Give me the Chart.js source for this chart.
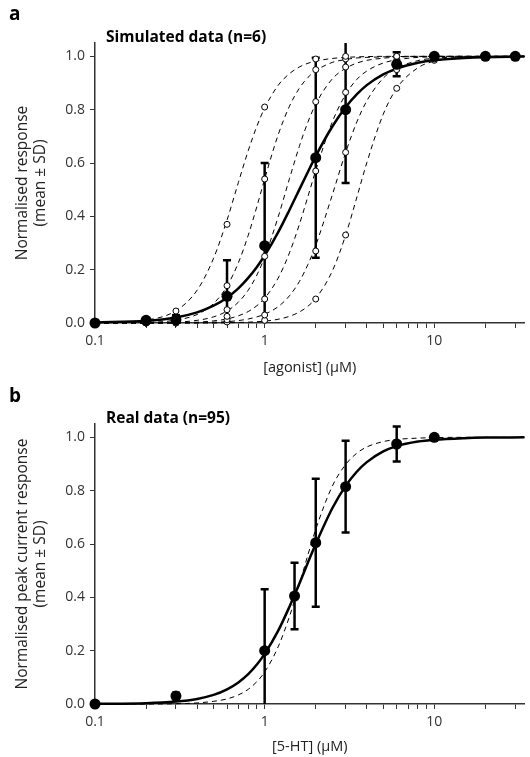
<!DOCTYPE html>
<html>
<head>
<meta charset="utf-8">
<script src="https://cdn.jsdelivr.net/npm/chart.js@4.4.1/dist/chart.umd.min.js"></script>
<style>
  body { margin: 0; background: #fff; }
  canvas { display: block; }
</style>
</head>
<body>
<canvas id="chartA" width="530" height="378"></canvas>
<canvas id="chartB" width="530" height="379"></canvas>
<script>
// Ticks of the log x axis, and which of them get a label
const xTicks = [0.1, 0.2, 0.3, 0.4, 0.5, 0.6, 0.7, 0.8, 0.9, 1, 2, 3, 4, 5, 6, 7, 8, 9, 10, 20, 30];
const xTickLabels = [0.1, 1, 10];

// Panel a: simulated data, 6 individual cells + mean ± SD
const dosesA = [0.1, 0.2, 0.3, 0.6, 1, 2, 3, 6, 10, 20, 30];
const meanA = [0.0, 0.01, 0.012, 0.10, 0.29, 0.62, 0.80, 0.97, 1.0, 1.0, 1.0];
const sdA = [0, 0.005, 0.017, 0.135, 0.31, 0.375, 0.275, 0.045, 0.006, 0, 0];
const cell1 = [0, 0.01, 0.045, 0.37, 0.81, 0.99, 1.0, 1.0, 1.0, 1.0, 1.0];
const cell2 = [0, 0.002, 0.01, 0.14, 0.54, 0.95, 0.99, 1.0, 1.0, 1.0, 1.0];
const cell3 = [0, 0, 0.003, 0.05, 0.25, 0.83, 0.96, 1.0, 1.0, 1.0, 1.0];
const cell4 = [0, 0, 0.001, 0.025, 0.09, 0.57, 0.865, 0.985, 1.0, 1.0, 1.0];
const cell5 = [0, 0, 0, 0.012, 0.03, 0.27, 0.64, 0.95, 0.99, 1.0, 1.0];
const cell6 = [0, 0, 0, 0.004, 0.01, 0.09, 0.33, 0.88, 0.985, 1.0, 1.0];

// Fitted curves at these concentrations
const curveX = [0.1, 0.2, 0.3, 0.4, 0.5, 0.6, 0.7, 0.8, 0.9, 1, 1.2, 1.4, 1.6, 1.8, 2, 2.5, 3, 3.5, 4, 5, 6, 8, 10, 15, 20, 34];
const fitA1 = [0.001, 0.011, 0.046, 0.123, 0.243, 0.386, 0.527, 0.646, 0.738, 0.806, 0.891, 0.935, 0.960, 0.974, 0.982, 0.992, 0.996, 0.998, 0.999, 1, 1, 1, 1, 1, 1, 1];
const fitA2 = [0, 0.002, 0.011, 0.032, 0.073, 0.138, 0.226, 0.329, 0.437, 0.540, 0.705, 0.813, 0.880, 0.921, 0.946, 0.977, 0.988, 0.994, 0.996, 0.998, 0.999, 1, 1, 1, 1, 1];
const fitA3 = [0, 0.001, 0.003, 0.010, 0.023, 0.045, 0.078, 0.123, 0.180, 0.247, 0.397, 0.541, 0.662, 0.754, 0.821, 0.915, 0.955, 0.975, 0.985, 0.993, 0.997, 0.999, 1, 1, 1, 1];
const fitA4 = [0, 0, 0.001, 0.003, 0.008, 0.015, 0.027, 0.043, 0.065, 0.093, 0.168, 0.263, 0.369, 0.475, 0.572, 0.753, 0.857, 0.914, 0.945, 0.975, 0.987, 0.996, 0.998, 1, 1, 1];
const fitA5 = [0, 0, 0, 0.001, 0.003, 0.005, 0.009, 0.015, 0.023, 0.033, 0.061, 0.102, 0.155, 0.220, 0.291, 0.479, 0.639, 0.755, 0.833, 0.918, 0.955, 0.984, 0.993, 0.998, 1, 1];
const fitA6 = [0, 0, 0, 0, 0, 0.001, 0.002, 0.003, 0.005, 0.007, 0.014, 0.025, 0.041, 0.063, 0.092, 0.194, 0.329, 0.473, 0.601, 0.783, 0.880, 0.957, 0.982, 0.996, 0.999, 1];
const fitMeanA = [0.002, 0.008, 0.021, 0.040, 0.065, 0.095, 0.130, 0.169, 0.210, 0.253, 0.340, 0.424, 0.500, 0.567, 0.626, 0.736, 0.809, 0.858, 0.892, 0.932, 0.954, 0.976, 0.986, 0.994, 0.997, 0.999];

// Panel b: real data (n=95)
const dosesB = [0.1, 0.3, 1, 1.5, 2, 3, 6, 10];
const meanB = [0.0, 0.03, 0.20, 0.405, 0.605, 0.815, 0.975, 1.0];
const sdB = [0, 0.012, 0.23, 0.125, 0.24, 0.172, 0.066, 0.005];
const fitB = [0.001, 0.003, 0.009, 0.019, 0.034, 0.055, 0.081, 0.112, 0.148, 0.188, 0.274, 0.365, 0.451, 0.531, 0.600, 0.733, 0.818, 0.872, 0.907, 0.947, 0.967, 0.984, 0.991, 0.997, 0.999, 1];
const fitBDashed = [0, 0, 0.001, 0.004, 0.010, 0.019, 0.034, 0.055, 0.084, 0.120, 0.214, 0.328, 0.448, 0.560, 0.655, 0.816, 0.898, 0.941, 0.964, 0.984, 0.992, 0.997, 0.999, 1, 1, 1];

const fontFamily = "'Open Sans', Lato, sans-serif";
const axisColor = '#333';

Chart.defaults.font.family = fontFamily;
Chart.defaults.color = '#333';

const xy = (xs, ys) => xs.map((x, i) => ({ x: x, y: ys[i] }));

// Vertical SD bars with caps, clipped to the plot area
const errorBars = {
    id: 'errorBars',
    beforeDatasetsDraw(chart, args, opts) {
        const { ctx, chartArea, scales: { x, y } } = chart;
        ctx.save();
        ctx.beginPath();
        ctx.rect(chartArea.left, chartArea.top, chartArea.right - chartArea.left, chartArea.bottom - chartArea.top);
        ctx.clip();
        ctx.strokeStyle = '#000';
        ctx.lineWidth = 2.5;
        opts.doses.forEach((d, i) => {
            const sd = opts.sd[i];
            if (sd < 0.01) return;
            const px = x.getPixelForValue(d);
            const top = y.getPixelForValue(opts.mean[i] + sd);
            const bot = y.getPixelForValue(opts.mean[i] - sd);
            ctx.beginPath();
            ctx.moveTo(px, top); ctx.lineTo(px, bot);
            ctx.moveTo(px - 4, top); ctx.lineTo(px + 4, top);
            ctx.moveTo(px - 4, bot); ctx.lineTo(px + 4, bot);
            ctx.stroke();
        });
        ctx.restore();
    }
};

// Panel letter and bold title
const panelText = {
    id: 'panelText',
    afterDraw(chart, args, opts) {
        const { ctx, chartArea } = chart;
        ctx.save();
        ctx.fillStyle = '#000';
        ctx.textBaseline = 'middle';
        ctx.font = 'bold 19px ' + fontFamily;
        ctx.fillText(opts.letter, 9, opts.letterY);
        ctx.font = 'bold 15.5px ' + fontFamily;
        ctx.fillText(opts.title, chartArea.left + 11, opts.titleY);
        ctx.restore();
    }
};

function dashed(ys) {
    return { data: xy(curveX, ys), showLine: true, borderColor: '#000', borderWidth: 1, borderDash: [5, 4],
             pointRadius: 0, cubicInterpolationMode: 'monotone', clip: false };
}
function solid(ys) {
    return { data: xy(curveX, ys), showLine: true, borderColor: '#000', borderWidth: 2.5,
             pointRadius: 0, cubicInterpolationMode: 'monotone', clip: false };
}
function openPts(ys) {
    return { data: xy(dosesA, ys), pointRadius: 3, pointBackgroundColor: '#fff', pointBorderColor: '#000',
             pointBorderWidth: 1, clip: false };
}
function meanPts(xs, ys) {
    return { data: xy(xs, ys), pointRadius: 5.5, pointBackgroundColor: '#000', pointBorderColor: '#000',
             pointBorderWidth: 0, clip: false };
}

function scalesFor(xTitle, yTitle, xHeight) {
    return {
        x: {
            type: 'logarithmic', min: 0.1, max: 34,
            afterBuildTicks(s) { s.ticks = xTicks.map(v => ({ value: v })); },
            afterFit(s) { s.height = xHeight; },
            ticks: {
                autoSkip: false, maxRotation: 0, padding: 5, color: '#333',
                font: { size: 14 },
                callback: v => xTickLabels.some(t => Math.abs(t - v) < 1e-9) ? String(v) : ''
            },
            grid: { drawOnChartArea: false, tickLength: 5, color: axisColor, lineWidth: 1 },
            border: { color: axisColor, width: 1.5 },
            title: { display: true, text: xTitle, color: '#222', font: { size: 14.5 }, padding: { top: 0, bottom: 1 } }
        },
        y: {
            min: 0, max: 1.05,
            afterFit(s) { s.width = 95; },
            ticks: { stepSize: 0.2, includeBounds: false, padding: 5, color: '#333', font: { size: 14 },
                     callback: v => v.toFixed(1) },
            grid: { drawOnChartArea: false, tickLength: 5, color: axisColor, lineWidth: 1 },
            border: { color: axisColor, width: 1.5 },
            title: { display: true, text: yTitle, color: '#222', font: { size: 15.5, lineHeight: 1.18 },
                     padding: { top: 13, bottom: 0 } }
        }
    };
}

const commonOptions = {
    responsive: false,
    animation: false,
    events: [],
    plugins: { legend: { display: false }, tooltip: { enabled: false } }
};

new Chart(document.getElementById('chartA'), {
    type: 'scatter',
    data: {
        datasets: [
            meanPts(dosesA, meanA),
            openPts(cell1), openPts(cell2), openPts(cell3), openPts(cell4), openPts(cell5), openPts(cell6),
            solid(fitMeanA),
            dashed(fitA1), dashed(fitA2), dashed(fitA3), dashed(fitA4), dashed(fitA5), dashed(fitA6)
        ]
    },
    options: {
        ...commonOptions,
        layout: { padding: { top: 43, left: 0, right: 0, bottom: 0 } },
        scales: scalesFor('[agonist] (µM)', ['Normalised response', '(mean ± SD)'], 55),
        plugins: {
            ...commonOptions.plugins,
            errorBars: { doses: dosesA, mean: meanA, sd: sdA },
            panelText: { letter: 'a', letterY: 15, title: 'Simulated data (n=6)', titleY: 38 }
        }
    },
    plugins: [errorBars, panelText]
});

new Chart(document.getElementById('chartB'), {
    type: 'scatter',
    data: {
        datasets: [
            meanPts(dosesB, meanB),
            solid(fitB),
            dashed(fitBDashed)
        ]
    },
    options: {
        ...commonOptions,
        layout: { padding: { top: 46, left: 0, right: 0, bottom: 0 } },
        scales: scalesFor('[5-HT] (µM)', ['Normalised peak current response', '(mean ± SD)'], 53),
        plugins: {
            ...commonOptions.plugins,
            errorBars: { doses: dosesB, mean: meanB, sd: sdB },
            panelText: { letter: 'b', letterY: 19, title: 'Real data (n=95)', titleY: 41 }
        }
    },
    plugins: [errorBars, panelText]
});
</script>
</body>
</html>
